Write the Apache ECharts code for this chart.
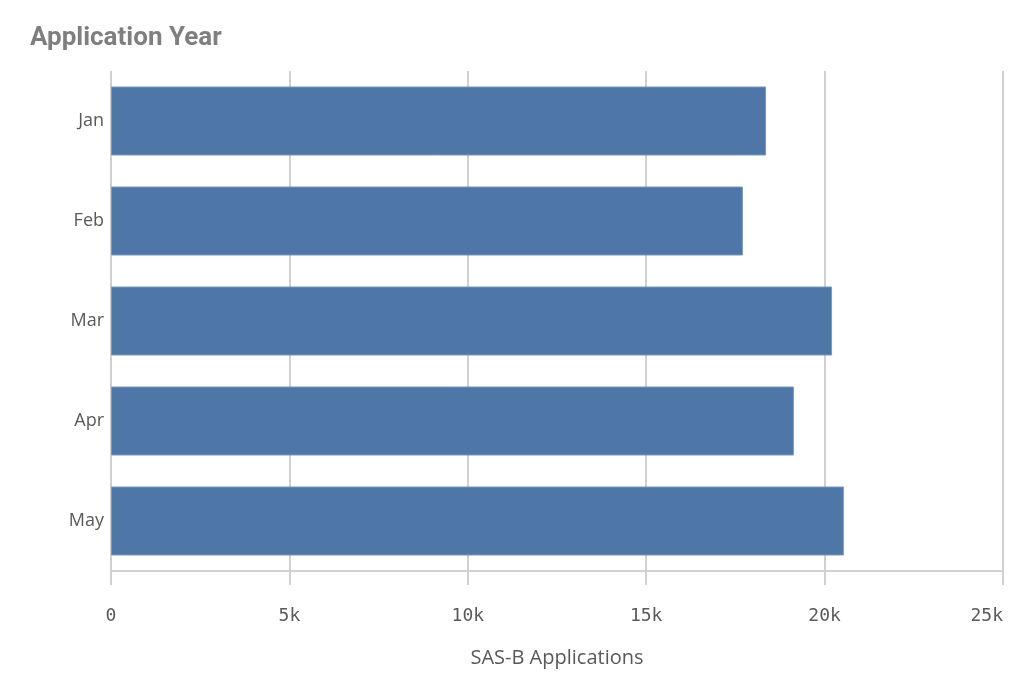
<!DOCTYPE html>
<html>
<head>
<meta charset="utf-8">
<script src="https://cdn.jsdelivr.net/npm/echarts@6/dist/echarts.min.js"></script>
<style>
  html, body { margin: 0; padding: 0; background: #fff; }
  #chart { width: 1024px; height: 690px; }
</style>
</head>
<body>
<div id="chart"></div>
<script>
// months on the category axis, top to bottom
const months = ['Jan', 'Feb', 'Mar', 'Apr', 'May']
// SAS-B applications per month
const applications = [18360, 17710, 20210, 19140, 20540]
// value axis ticks
const tickMin = 0
const tickMax = 25000
const tickStep = 5000

const gridGray = '#d0d0d0'
const textGray = '#595959'

const chart = echarts.init(document.getElementById('chart'))

chart.setOption({
  animation: false,
  title: {
    text: 'Application Year',
    left: 25,
    top: 20,
    textStyle: {
      fontFamily: 'Roboto',
      fontWeight: 'bold',
      fontSize: 26,
      color: '#7f7f7f'
    }
  },
  grid: {
    left: 111,
    right: 21,
    top: 71,
    bottom: 119
  },
  xAxis: {
    type: 'value',
    min: tickMin,
    max: tickMax,
    interval: tickStep,
    name: 'SAS-B Applications',
    nameLocation: 'middle',
    nameGap: 77,
    nameTextStyle: { color: textGray, fontSize: 20, fontFamily: 'Open Sans' },
    axisLine: { show: true, lineStyle: { color: gridGray, width: 2 } },
    axisTick: { show: true, length: 14, lineStyle: { color: gridGray, width: 2 } },
    splitLine: { show: true, lineStyle: { color: gridGray, width: 2 } },
    axisLabel: {
      margin: 36,
      color: textGray,
      fontSize: 18,
      fontFamily: 'DejaVu Sans Mono',
      alignMaxLabel: 'right',
      formatter: v => v === 0 ? '0' : (v / 1000) + 'k'
    }
  },
  yAxis: {
    type: 'category',
    data: months,
    inverse: true,
    axisLine: { show: false },
    axisTick: { show: false },
    axisLabel: {
      margin: 7,
      color: textGray,
      fontSize: 18,
      fontFamily: 'Open Sans'
    }
  },
  series: [{
    type: 'bar',
    data: applications,
    barCategoryGap: '31%',
    itemStyle: {
      color: '#4e76a7',
      borderColor: '#7898c0',
      borderWidth: 1
    }
  }]
})
</script>
</body>
</html>
